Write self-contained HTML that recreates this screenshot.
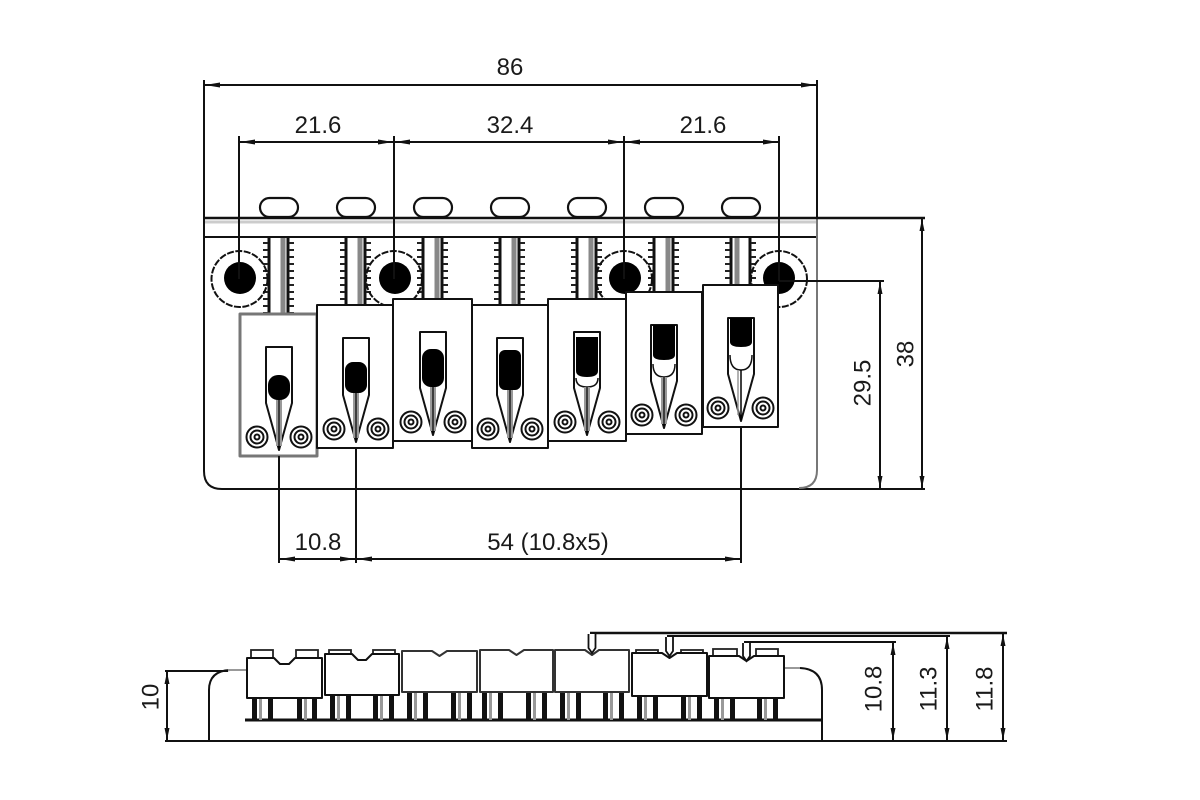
<!DOCTYPE html>
<html><head><meta charset="utf-8"><style>
html,body{margin:0;padding:0;background:#fff}
svg{display:block}
text{font-family:"Liberation Sans",sans-serif;font-size:24px;fill:#1a1a1a;text-anchor:middle}
</style></head><body>
<svg width="1200" height="800" viewBox="0 0 1200 800" xmlns="http://www.w3.org/2000/svg">
<rect width="1200" height="800" fill="#fff"/>

<!-- ===== TOP VIEW ===== -->
<g fill="none" stroke="#111" stroke-width="2">
  <path d="M204 80 V471 Q204 489 222 489 H925"/>
  <line x1="205" y1="222" x2="816" y2="222" stroke="#ccc" stroke-width="3"/>
  <line x1="204" y1="237" x2="817" y2="237"/>
  <line x1="817" y1="80" x2="817" y2="218"/>
  <path d="M817 218 V470 Q817 488 799 488" stroke="#777"/>
</g>

<!-- ovals -->
<g fill="#fff" stroke="#111" stroke-width="2.2">
  <rect x="260" y="198" width="38" height="19" rx="9.5"/>
  <rect x="337" y="198" width="38" height="19" rx="9.5"/>
  <rect x="414" y="198" width="38" height="19" rx="9.5"/>
  <rect x="491" y="198" width="38" height="19" rx="9.5"/>
  <rect x="568" y="198" width="38" height="19" rx="9.5"/>
  <rect x="645" y="198" width="38" height="19" rx="9.5"/>
  <rect x="722" y="198" width="38" height="19" rx="9.5"/>
</g>
<line x1="204" y1="218" x2="925" y2="218" stroke="#111" stroke-width="2.5"/>

<!-- rods -->
<g fill="none">
  <g stroke="#111" stroke-width="3">
    <line x1="269" y1="238" x2="269" y2="314"/><line x1="288" y1="238" x2="288" y2="314"/>
    <line x1="346" y1="238" x2="346" y2="305"/><line x1="365" y1="238" x2="365" y2="305"/>
    <line x1="423" y1="238" x2="423" y2="299"/><line x1="442" y1="238" x2="442" y2="299"/>
    <line x1="500" y1="238" x2="500" y2="305"/><line x1="519" y1="238" x2="519" y2="305"/>
    <line x1="577" y1="238" x2="577" y2="299"/><line x1="596" y1="238" x2="596" y2="299"/>
    <line x1="654" y1="238" x2="654" y2="292"/><line x1="673" y1="238" x2="673" y2="292"/>
    <line x1="731" y1="238" x2="731" y2="285"/><line x1="750" y1="238" x2="750" y2="285"/>
  </g>
  <g stroke="#888" stroke-width="5">
    <line x1="283" y1="238" x2="283" y2="314"/>
    <line x1="360" y1="238" x2="360" y2="305"/>
    <line x1="437" y1="238" x2="437" y2="299"/>
    <line x1="514" y1="238" x2="514" y2="305"/>
    <line x1="591" y1="238" x2="591" y2="299"/>
    <line x1="668" y1="238" x2="668" y2="292"/>
    <line x1="737" y1="238" x2="737" y2="285"/>
  </g>
  <g stroke="#222" stroke-width="5" stroke-dasharray="2 5">
    <line x1="265.5" y1="242" x2="265.5" y2="314"/><line x1="291.5" y1="242" x2="291.5" y2="314"/>
    <line x1="342.5" y1="242" x2="342.5" y2="305"/><line x1="368.5" y1="242" x2="368.5" y2="305"/>
    <line x1="419.5" y1="242" x2="419.5" y2="299"/><line x1="445.5" y1="242" x2="445.5" y2="299"/>
    <line x1="496.5" y1="242" x2="496.5" y2="305"/><line x1="522.5" y1="242" x2="522.5" y2="305"/>
    <line x1="573.5" y1="242" x2="573.5" y2="299"/><line x1="599.5" y1="242" x2="599.5" y2="299"/>
    <line x1="650.5" y1="242" x2="650.5" y2="292"/><line x1="676.5" y1="242" x2="676.5" y2="292"/>
    <line x1="727.5" y1="242" x2="727.5" y2="285"/><line x1="753.5" y1="242" x2="753.5" y2="285"/>
  </g>
</g>

<!-- mounting screws -->
<g>
  <g fill="none" stroke="#111" stroke-width="2" stroke-dasharray="7 1.5">
    <circle cx="239.5" cy="279" r="28"/>
    <circle cx="394" cy="279" r="28"/>
    <circle cx="624" cy="279" r="28"/>
    <circle cx="779" cy="279" r="28"/>
  </g>
  <g fill="#000">
    <circle cx="240" cy="278" r="16"/>
    <circle cx="395" cy="278" r="16"/>
    <circle cx="625" cy="278" r="16"/>
    <circle cx="779" cy="278" r="16"/>
  </g>
</g>

<!-- saddles -->
<g stroke-linejoin="round">
  <rect x="240" y="314" width="77" height="142" fill="#fff" stroke="#777" stroke-width="3"/>
  <path d="M266 347 H292 V403 L279 450 L266 403 Z" fill="#fff" stroke="#111" stroke-width="2"/>
  <rect x="268" y="375" width="22" height="25" rx="10" fill="#000"/>
  <rect x="276" y="400" width="6" height="46" fill="#999"/><line x1="279" y1="400" x2="279" y2="448" stroke="#000" stroke-width="1.2"/>

  <rect x="317" y="305" width="76" height="143" fill="#fff" stroke="#111" stroke-width="2"/>
  <path d="M343 338 H369 V395 L356 442 L343 395 Z" fill="#fff" stroke="#111" stroke-width="2"/>
  <rect x="345" y="362" width="22" height="31" rx="8" fill="#000"/>
  <rect x="353" y="393" width="6" height="45" fill="#999"/><line x1="356" y1="393" x2="356" y2="440" stroke="#000" stroke-width="1.2"/>

  <rect x="393" y="299" width="79" height="142" fill="#fff" stroke="#111" stroke-width="2"/>
  <path d="M420 332 H446 V388 L433 435 L420 388 Z" fill="#fff" stroke="#111" stroke-width="2"/>
  <rect x="422" y="349" width="22" height="38" rx="9" fill="#000"/>
  <rect x="430" y="387" width="6" height="44" fill="#999"/><line x1="433" y1="387" x2="433" y2="433" stroke="#000" stroke-width="1.2"/>

  <rect x="472" y="305" width="76" height="143" fill="#fff" stroke="#111" stroke-width="2"/>
  <path d="M497 338 H523 V395 L510 442 L497 395 Z" fill="#fff" stroke="#111" stroke-width="2"/>
  <rect x="499" y="350" width="22" height="40" rx="6" fill="#000"/>
  <rect x="507" y="390" width="6" height="48" fill="#999"/><line x1="510" y1="390" x2="510" y2="440" stroke="#000" stroke-width="1.2"/>

  <rect x="548" y="299" width="78" height="142" fill="#fff" stroke="#111" stroke-width="2"/>
  <path d="M574 332 H600 V388 L587 435 L574 388 Z" fill="#fff" stroke="#111" stroke-width="2"/>
  <path d="M576 337 H598 V371 Q598 377 587 377 Q576 377 576 371 Z" fill="#000"/>
  <path d="M576 378 Q576 387 587 387 Q598 387 598 378" fill="none" stroke="#111" stroke-width="1.5"/>
  <rect x="584" y="387" width="6" height="44" fill="#999"/><line x1="587" y1="387" x2="587" y2="433" stroke="#000" stroke-width="1.2"/>

  <rect x="626" y="292" width="76" height="142" fill="#fff" stroke="#111" stroke-width="2"/>
  <path d="M651 325 H677 V381 L664 428 L651 381 Z" fill="#fff" stroke="#111" stroke-width="2"/>
  <path d="M653 325 H675 V355 Q675 360 664 360 Q653 360 653 355 Z" fill="#000"/>
  <path d="M653 364 Q653 377 664 377 Q675 377 675 364" fill="none" stroke="#111" stroke-width="1.5"/>
  <rect x="661" y="377" width="6" height="47" fill="#999"/><line x1="664" y1="377" x2="664" y2="426" stroke="#000" stroke-width="1.2"/>

  <rect x="703" y="285" width="75" height="142" fill="#fff" stroke="#111" stroke-width="2"/>
  <path d="M728 318 H754 V374 L741 421 L728 374 Z" fill="#fff" stroke="#111" stroke-width="2"/>
  <path d="M730 318 H752 V342 Q752 347 741 347 Q730 347 730 342 Z" fill="#000"/>
  <path d="M730 355 Q730 370 741 370 Q752 370 752 355" fill="none" stroke="#111" stroke-width="1.5"/>
  <line x1="741" y1="370" x2="741" y2="420" stroke="#000" stroke-width="1.5"/>
  <line x1="738" y1="370" x2="738" y2="415" stroke="#999" stroke-width="1.5"/>
</g>

<!-- rings -->
<g fill="none" stroke="#111" stroke-width="2">
  <circle cx="257" cy="437" r="10.5"/><circle cx="257" cy="437" r="6.5"/><circle cx="257" cy="437" r="2.5"/>
  <circle cx="301" cy="437" r="10.5"/><circle cx="301" cy="437" r="6.5"/><circle cx="301" cy="437" r="2.5"/>
  <circle cx="334" cy="429" r="10.5"/><circle cx="334" cy="429" r="6.5"/><circle cx="334" cy="429" r="2.5"/>
  <circle cx="378" cy="429" r="10.5"/><circle cx="378" cy="429" r="6.5"/><circle cx="378" cy="429" r="2.5"/>
  <circle cx="411" cy="422" r="10.5"/><circle cx="411" cy="422" r="6.5"/><circle cx="411" cy="422" r="2.5"/>
  <circle cx="455" cy="422" r="10.5"/><circle cx="455" cy="422" r="6.5"/><circle cx="455" cy="422" r="2.5"/>
  <circle cx="488" cy="429" r="10.5"/><circle cx="488" cy="429" r="6.5"/><circle cx="488" cy="429" r="2.5"/>
  <circle cx="532" cy="429" r="10.5"/><circle cx="532" cy="429" r="6.5"/><circle cx="532" cy="429" r="2.5"/>
  <circle cx="565" cy="422" r="10.5"/><circle cx="565" cy="422" r="6.5"/><circle cx="565" cy="422" r="2.5"/>
  <circle cx="609" cy="422" r="10.5"/><circle cx="609" cy="422" r="6.5"/><circle cx="609" cy="422" r="2.5"/>
  <circle cx="642" cy="415" r="10.5"/><circle cx="642" cy="415" r="6.5"/><circle cx="642" cy="415" r="2.5"/>
  <circle cx="686" cy="415" r="10.5"/><circle cx="686" cy="415" r="6.5"/><circle cx="686" cy="415" r="2.5"/>
  <circle cx="718" cy="408" r="10.5"/><circle cx="718" cy="408" r="6.5"/><circle cx="718" cy="408" r="2.5"/>
  <circle cx="763" cy="408" r="10.5"/><circle cx="763" cy="408" r="6.5"/><circle cx="763" cy="408" r="2.5"/>
</g>

<!-- top dimensions -->
<g stroke="#111" stroke-width="2" fill="none">
  <line x1="204" y1="85" x2="817" y2="85"/>
  <line x1="239" y1="142" x2="779" y2="142"/>
  <line x1="239" y1="136" x2="239" y2="279"/>
  <line x1="394" y1="136" x2="394" y2="279"/>
  <line x1="624" y1="136" x2="624" y2="279"/>
  <line x1="779" y1="136" x2="779" y2="281"/>
  <line x1="779" y1="281" x2="884" y2="281"/>
  <line x1="880" y1="281" x2="880" y2="489"/>
  <line x1="922" y1="218" x2="922" y2="489"/>
  <line x1="279" y1="456" x2="279" y2="563"/>
  <line x1="356" y1="448" x2="356" y2="563"/>
  <line x1="741" y1="427" x2="741" y2="563"/>
  <line x1="279" y1="559" x2="741" y2="559"/>
</g>
<g fill="#111">
  <polygon points="205,85 220,82.5 220,87.5"/>
  <polygon points="816,85 801,82.5 801,87.5"/>
  <polygon points="240,142 255,139.5 255,144.5"/>
  <polygon points="393,142 378,139.5 378,144.5"/>
  <polygon points="395,142 410,139.5 410,144.5"/>
  <polygon points="623,142 608,139.5 608,144.5"/>
  <polygon points="625,142 640,139.5 640,144.5"/>
  <polygon points="778,142 763,139.5 763,144.5"/>
  <polygon points="880,282 877.5,294 882.5,294"/>
  <polygon points="880,488 877.5,476 882.5,476"/>
  <polygon points="922,219 919.5,231 924.5,231"/>
  <polygon points="922,488 919.5,476 924.5,476"/>
  <polygon points="280,559 295,556.5 295,561.5"/>
  <polygon points="355,559 340,556.5 340,561.5"/>
  <polygon points="357,559 372,556.5 372,561.5"/>
  <polygon points="740,559 725,556.5 725,561.5"/>
</g>
<text x="510" y="75">86</text>
<text x="318" y="133">21.6</text>
<text x="510" y="133">32.4</text>
<text x="703" y="133">21.6</text>
<text x="318" y="550">10.8</text>
<text x="548" y="550">54 (10.8x5)</text>
<text transform="translate(862,383) rotate(-90)" y="8.5">29.5</text>
<text transform="translate(905,354) rotate(-90)" y="8.5">38</text>

<!-- ===== SIDE VIEW ===== -->
<g fill="none" stroke="#111" stroke-width="2">
  <line x1="165" y1="741" x2="1007" y2="741"/>
  <line x1="165" y1="671" x2="228" y2="671"/>
  <path d="M209 741 V690 Q209 671 230 670 H247" />
  <line x1="228" y1="670" x2="247" y2="670" stroke="#999"/>
  <line x1="245" y1="720" x2="822" y2="720" stroke-width="3"/>
  <line x1="784" y1="668" x2="800" y2="668" stroke="#999"/>
  <path d="M800 668 Q822 669 822 690 V741"/>
  <line x1="167" y1="671" x2="167" y2="741"/>
  <line x1="590" y1="633" x2="1007" y2="633" stroke-width="2.5"/>
  <line x1="667" y1="636" x2="950" y2="636"/>
  <line x1="744" y1="642" x2="896" y2="642"/>
  <line x1="893" y1="642" x2="893" y2="741"/>
  <line x1="947" y1="636" x2="947" y2="741"/>
  <line x1="1003" y1="633" x2="1003" y2="741"/>
</g>

<!-- legs -->
<g fill="#111">
  <rect x="252" y="698" width="5" height="22"/><rect x="268" y="698" width="5" height="22"/>
  <rect x="297" y="698" width="5" height="22"/><rect x="312" y="698" width="5" height="22"/>
  <rect x="330" y="695" width="5" height="25"/><rect x="346" y="695" width="5" height="25"/>
  <rect x="373" y="695" width="5" height="25"/><rect x="389" y="695" width="5" height="25"/>
  <rect x="407" y="692" width="5" height="28"/><rect x="423" y="692" width="5" height="28"/>
  <rect x="451" y="692" width="5" height="28"/><rect x="467" y="692" width="5" height="28"/>
  <rect x="482" y="692" width="5" height="28"/><rect x="498" y="692" width="5" height="28"/>
  <rect x="526" y="692" width="5" height="28"/><rect x="542" y="692" width="5" height="28"/>
  <rect x="560" y="692" width="5" height="28"/><rect x="576" y="692" width="5" height="28"/>
  <rect x="603" y="692" width="5" height="28"/><rect x="619" y="692" width="5" height="28"/>
  <rect x="637" y="696" width="5" height="24"/><rect x="653" y="696" width="5" height="24"/>
  <rect x="681" y="696" width="5" height="24"/><rect x="697" y="696" width="5" height="24"/>
  <rect x="714" y="698" width="5" height="22"/><rect x="730" y="698" width="5" height="22"/>
  <rect x="757" y="698" width="5" height="22"/><rect x="773" y="698" width="5" height="22"/>
</g>
<g fill="#999">
  <rect x="259" y="698" width="3" height="22"/><rect x="304" y="698" width="3" height="22"/>
  <rect x="337" y="695" width="3" height="25"/><rect x="380" y="695" width="3" height="25"/>
  <rect x="414" y="692" width="3" height="28"/><rect x="458" y="692" width="3" height="28"/>
  <rect x="489" y="692" width="3" height="28"/><rect x="533" y="692" width="3" height="28"/>
  <rect x="567" y="692" width="3" height="28"/><rect x="610" y="692" width="3" height="28"/>
  <rect x="644" y="696" width="3" height="24"/><rect x="688" y="696" width="3" height="24"/>
  <rect x="721" y="698" width="3" height="22"/><rect x="764" y="698" width="3" height="22"/>
</g>

<!-- bumps -->
<g fill="#fff" stroke="#222" stroke-width="1.8">
  <rect x="251" y="650" width="22" height="8"/><rect x="296" y="650" width="22" height="8"/>
  <rect x="329" y="650" width="22" height="5"/><rect x="373" y="650" width="22" height="5"/>
  <rect x="636" y="650" width="22" height="4"/><rect x="681" y="650" width="22" height="4"/>
  <rect x="713" y="649" width="24" height="7"/><rect x="756" y="649" width="22" height="7"/>
</g>

<!-- blocks -->
<g fill="#fff" stroke="#111" stroke-width="2" stroke-linejoin="round">
  <path d="M247 658 H274 L280 664 H289 L295 658 H322 V698 H247 Z"/>
  <path d="M325 654 H352 L358 660 H366 L372 654 H399 V695 H325 Z"/>
  <path d="M402 651 H432 L439.5 656 L447 651 H477 V692 H402 Z" stroke="#333"/>
  <path d="M480 650 H509 L516.5 655 L524 650 H553 V692 H480 Z" stroke="#333"/>
  <path d="M555 650 H585 L592 655 L599 650 H629 V692 H555 Z" stroke="#333"/>
  <path d="M632 653 H662 L669.5 658 L677 653 H707 V696 H632 Z"/>
  <path d="M709 656 H739 L746.5 661 L754 656 H784 V698 H709 Z"/>
</g>

<!-- pointers -->
<g fill="#fff" stroke="#111" stroke-width="1.8">
  <path d="M588.5 634 V648 L592 653 L595.5 648 V634"/>
  <path d="M666 637 V651 L669.5 656 L673 651 V637"/>
  <path d="M743 643 V656 L746.5 661 L750 656 V643"/>
</g>

<g fill="#111">
  <polygon points="167,672 164.5,684 169.5,684"/>
  <polygon points="167,740 164.5,728 169.5,728"/>
  <polygon points="893,643 890.5,655 895.5,655"/>
  <polygon points="893,740 890.5,728 895.5,728"/>
  <polygon points="947,637 944.5,649 949.5,649"/>
  <polygon points="947,740 944.5,728 949.5,728"/>
  <polygon points="1003,634 1000.5,646 1005.5,646"/>
  <polygon points="1003,740 1000.5,728 1005.5,728"/>
</g>
<text transform="translate(150,697) rotate(-90)" y="8.5">10</text>
<text transform="translate(873,689) rotate(-90)" y="8.5">10.8</text>
<text transform="translate(928,689) rotate(-90)" y="8.5">11.3</text>
<text transform="translate(984,689) rotate(-90)" y="8.5">11.8</text>
</svg>
</body></html>
